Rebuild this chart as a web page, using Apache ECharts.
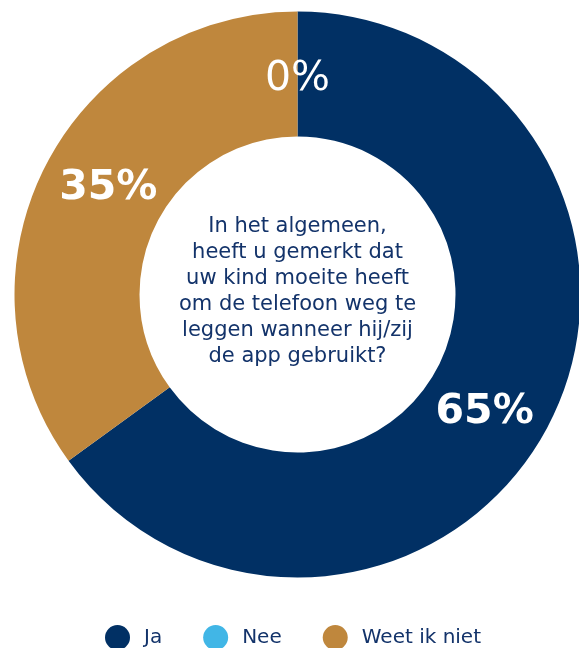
<!DOCTYPE html>
<html>
<head>
<meta charset="utf-8">
<script src="https://cdn.jsdelivr.net/npm/echarts@6/dist/echarts.min.js"></script>
<style>
  html, body { margin: 0; padding: 0; background: #ffffff; }
  #chart { width: 579px; height: 648px; }
</style>
</head>
<body>
<div id="chart"></div>
<script>
// Answer categories (legend order) and their shares in percent
const categories = ['Ja', 'Nee', 'Weet ik niet'];
const values = [65, 0, 35];
const colors = ['#013064', '#41b6e6', '#bf873d'];
// Order in which the slices are laid out clockwise from the top
const sliceOrder = [1, 0, 2];
const question = [
  'In het algemeen,',
  'heeft u gemerkt dat',
  'uw kind moeite heeft',
  'om de telefoon weg te',
  'leggen wanneer hij/zij',
  'de app gebruikt?'
];

const FONT = 'DejaVu Sans';
const labelOffsets = { 'Ja': [-12, 16], 'Nee': [0, 8], 'Weet ik niet': [10, -5] };
const labelWeights = { 'Ja': 600, 'Nee': 500, 'Weet ik niet': 600 };

const pieData = sliceOrder.map(i => ({
  name: categories[i],
  value: values[i],
  itemStyle: { color: colors[i] },
  label: {
    offset: labelOffsets[categories[i]],
    fontWeight: labelWeights[categories[i]]
  }
}));

const chart = echarts.init(document.getElementById('chart'), null, { renderer: 'canvas' });
chart.setOption({
  animation: false,
  backgroundColor: '#ffffff',
  color: colors,
  legend: {
    data: categories,
    left: 100,
    top: 620,
    icon: 'circle',
    itemWidth: 25,
    itemHeight: 25,
    itemGap: 41,
    textStyle: { fontFamily: FONT, fontSize: 20, color: '#13336a', padding: [0, 0, 0, 9] }
  },
  graphic: [{
    type: 'text',
    x: 297.5,
    y: 292,
    style: {
      text: question.join('\n'),
      fontFamily: FONT,
      fontSize: 21,
      lineHeight: 26,
      fill: '#13336a',
      align: 'center',
      verticalAlign: 'middle'
    }
  }],
  series: [{
    type: 'pie',
    center: [297.5, 294.5],
    radius: [158, 283],
    startAngle: 90,
    clockwise: true,
    avoidLabelOverlap: false,
    stillShowZeroSum: true,
    minShowLabelAngle: 0,
    label: {
      show: true,
      position: 'inside',
      formatter: '{c}%',
      color: '#ffffff',
      fontFamily: FONT,
      fontSize: 41
    },
    labelLine: { show: false },
    emphasis: { disabled: true },
    data: pieData
  }]
});
</script>
</body>
</html>
